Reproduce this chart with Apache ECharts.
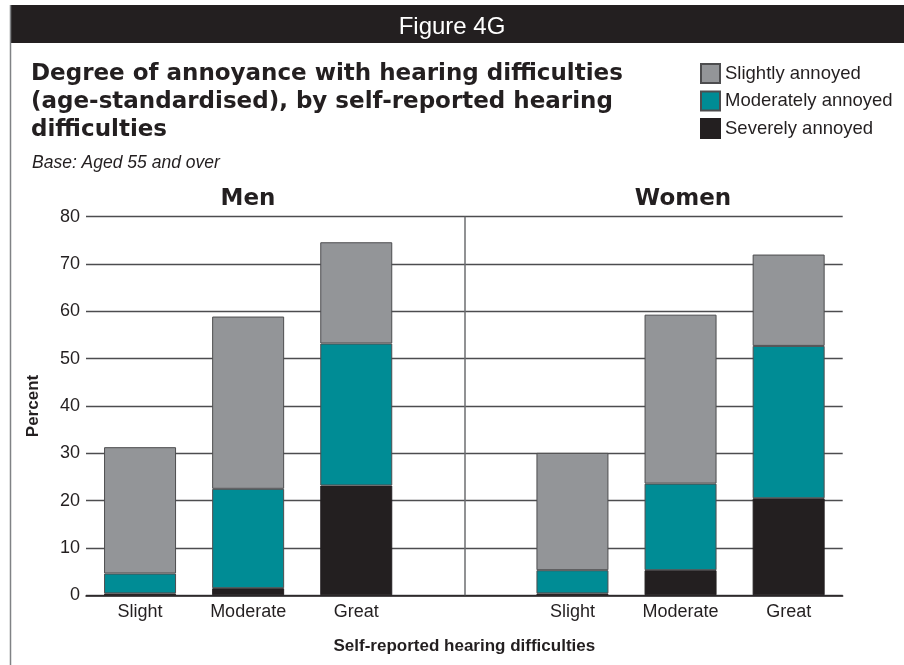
<!DOCTYPE html>
<html>
<head>
<meta charset="utf-8">
<script src="https://cdn.jsdelivr.net/npm/echarts@6/dist/echarts.min.js"></script>
<style>
  html, body { margin: 0; padding: 0; background: #fff; }
  #chart { width: 904px; height: 665px; }
</style>
</head>
<body>
<div id="chart"></div>
<script>
// hearing difficulty levels, shown once per panel
const levels = ["Slight", "Moderate", "Great"];
const panels = ["Men", "Women"];

// percent, stacked bottom to top: severe, moderate, slight
const menSevere = [0.4, 1.5, 23.2];
const menModerate = [4.2, 21.0, 30.0];
const menSlight = [26.7, 36.4, 21.4];

const womenSevere = [0.4, 5.3, 20.5];
const womenModerate = [4.9, 18.3, 32.2];
const womenSlight = [24.8, 35.7, 19.3];

const yTicks = { min: 0, max: 80, step: 10 };

// one category axis: Men levels, a gap (divider), Women levels
const xKeys = levels.map((l) => "Men|" + l)
  .concat(["gap"])
  .concat(levels.map((l) => "Women|" + l));

function joinPanels(men, women) {
  return men.concat([null]).concat(women);
}

const ink = "#231f20";
const edge = "#4d4d4f";

const chart = echarts.init(document.getElementById("chart"));

const option = {
  animation: false,
  graphic: [
    {
      type: "rect",
      shape: { x: 10, y: 5, width: 894, height: 38 },
      style: { fill: ink },
      z: 0,
    },
    {
      type: "line",
      shape: { x1: 10.5, y1: 5, x2: 10.5, y2: 665 },
      style: { stroke: "#808285", lineWidth: 1.5 },
    },
  ],
  title: [
    {
      text: "Figure 4G",
      left: "center",
      top: 10,
      textStyle: { color: "#fff", fontFamily: "Liberation Sans", fontWeight: "normal", fontSize: 24 },
    },
    {
      text: "Degree of annoyance with hearing difficulties\n(age-standardised), by self-reported hearing\ndifficulties",
      left: 31,
      top: 60,
      padding: 0,
      textStyle: { color: ink, fontFamily: "DejaVu Sans", fontWeight: "bold", fontSize: 23, lineHeight: 28 },
    },
    {
      text: "Base: Aged 55 and over",
      left: 32,
      top: 154,
      padding: 0,
      textStyle: { color: ink, fontFamily: "Liberation Sans", fontStyle: "italic", fontWeight: "normal", fontSize: 17.5 },
    },
    {
      text: panels[0],
      left: 248,
      top: 188,
      padding: 0,
      textAlign: "center",
      textStyle: { color: ink, fontFamily: "DejaVu Sans", fontWeight: "bold", fontSize: 23 },
    },
    {
      text: panels[1],
      left: 683,
      top: 188,
      padding: 0,
      textAlign: "center",
      textStyle: { color: ink, fontFamily: "DejaVu Sans", fontWeight: "bold", fontSize: 23 },
    },
  ],
  legend: {
    orient: "vertical",
    left: 700,
    top: 63,
    padding: 0,
    itemWidth: 19,
    itemHeight: 19,
    itemGap: 6.5,
    icon: "rect",
    data: ["Slightly annoyed", "Moderately annoyed", "Severely annoyed"],
    textStyle: { color: ink, fontFamily: "Liberation Sans", fontSize: 18.5 },
  },
  grid: { left: 86, right: 61.3, top: 216.7, bottom: 69.7 },
  xAxis: {
    type: "category",
    data: xKeys,
    name: "Self-reported hearing difficulties",
    nameLocation: "middle",
    nameGap: 43,
    nameTextStyle: { color: ink, fontFamily: "Liberation Sans", fontWeight: "bold", fontSize: 17 },
    axisLine: { lineStyle: { color: ink, width: 1.5 } },
    axisTick: { show: false },
    axisLabel: {
      interval: 0,
      margin: 8,
      color: ink,
      fontFamily: "Liberation Sans",
      fontSize: 18,
      formatter: (v) => (v.indexOf("|") > -1 ? v.split("|")[1] : ""),
    },
  },
  yAxis: {
    type: "value",
    min: yTicks.min,
    max: yTicks.max,
    interval: yTicks.step,
    name: "Percent",
    nameLocation: "middle",
    nameGap: 44,
    nameTextStyle: { color: ink, fontFamily: "Liberation Sans", fontWeight: "bold", fontSize: 17 },
    axisLine: { show: false },
    axisTick: { show: false },
    axisLabel: { margin: 6, color: ink, fontFamily: "Liberation Sans", fontSize: 18 },
    splitLine: { lineStyle: { color: "#4d4d4f", width: 1.4 } },
  },
  series: [
    {
      name: "Severely annoyed",
      type: "bar",
      stack: "all",
      barWidth: 72,
      itemStyle: { color: ink, borderColor: ink, borderWidth: 1 },
      data: joinPanels(menSevere, womenSevere),
      markLine: {
        silent: true,
        symbol: ["none", "none"],
        label: { show: false },
        lineStyle: { type: "solid", color: "#6d6e71", width: 1.5 },
        data: [{ xAxis: "gap" }],
      },
    },
    {
      name: "Moderately annoyed",
      type: "bar",
      stack: "all",
      barWidth: 72,
      itemStyle: { color: "#008c95", borderColor: edge, borderWidth: 1 },
      data: joinPanels(menModerate, womenModerate),
    },
    {
      name: "Slightly annoyed",
      type: "bar",
      stack: "all",
      barWidth: 72,
      itemStyle: { color: "#939598", borderColor: edge, borderWidth: 1 },
      data: joinPanels(menSlight, womenSlight),
    },
  ],
};

chart.setOption(option);
</script>
</body>
</html>
